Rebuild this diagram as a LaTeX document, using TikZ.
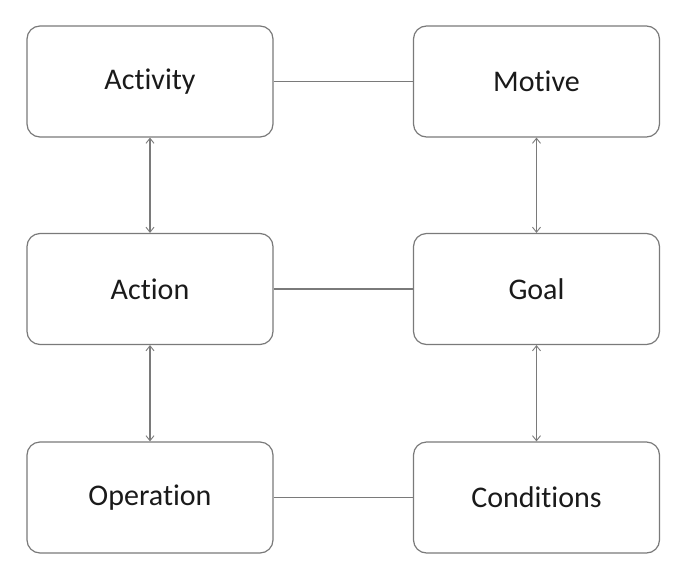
\documentclass[tikz,border=0pt]{standalone}
\usepackage{fontspec}
\setmainfont[RawFeature={-liga;-dlig;-clig}]{Carlito}
\usetikzlibrary{arrows.meta}
\definecolor{linegray}{HTML}{7A7A7A}
\definecolor{txt}{HTML}{1A1A1A}
\tikzset{
  box/.style={draw=linegray, line width=1.2pt, rounded corners=13pt, minimum width=246pt, minimum height=111pt, inner sep=0pt, text=txt, font=\fontsize{30}{36}\selectfont, fill=white},
  link/.style={draw=linegray, line width=1.2pt},
  dbl/.style={link, {Straight Barb[length=5pt,width=8pt,line width=0.9pt]}-{Straight Barb[length=5pt,width=8pt,line width=0.9pt]}}
}
\begin{document}
\begin{tikzpicture}[x=1pt,y=-1pt]
\useasboundingbox (0,0) rectangle (685,573);
\node[box] (activity) at (150,81.5) {Activity};
\node[box] (motive) at (536.5,81.5) {Motive};
\node[box] (action) at (150,289) {Action};
\node[box] (goal) at (536.5,289) {Goal};
\node[box] (operation) at (150,497.5) {Operation};
\node[box] (conditions) at (536.5,497.5) {Conditions};
\draw[link] (activity) -- (motive);
\draw[link] (action) -- (goal);
\draw[link] (operation) -- (conditions);
\draw[dbl] (activity) -- (action);
\draw[dbl] (action) -- (operation);
\draw[dbl] (motive) -- (goal);
\draw[dbl] (goal) -- (conditions);
\end{tikzpicture}
\end{document}
